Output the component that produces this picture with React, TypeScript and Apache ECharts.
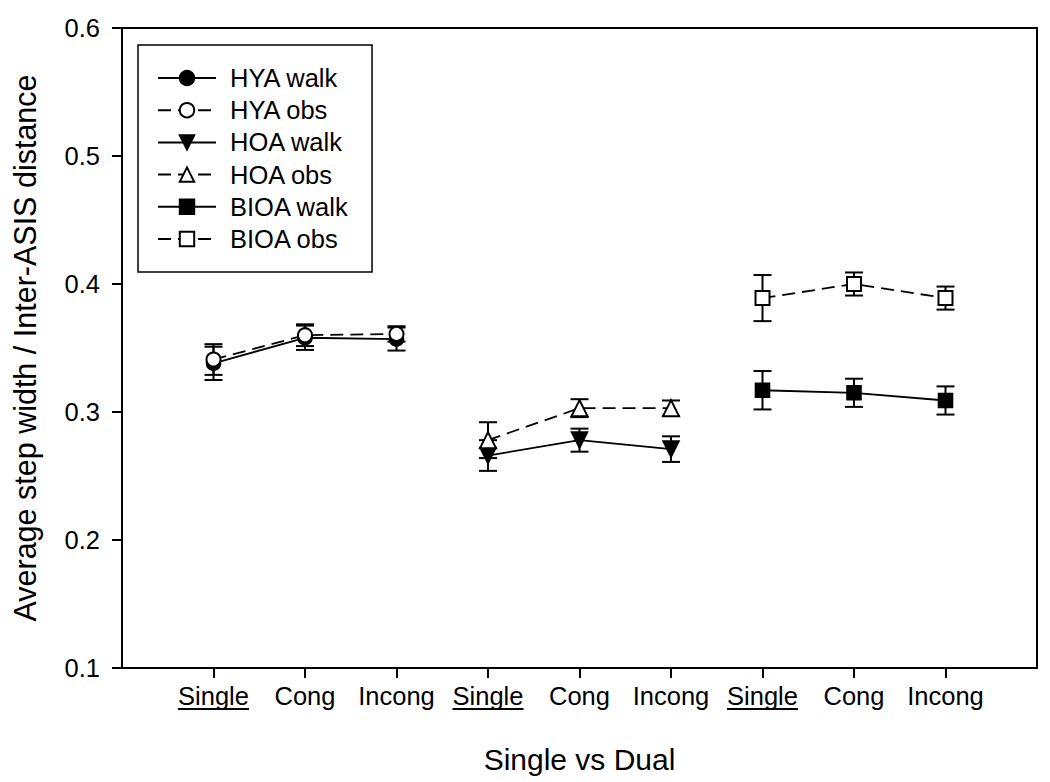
import React, { useEffect, useRef } from "react";
import * as echarts from "echarts";

const categories = ["", "Single", "Cong", "Incong", "Single", "Cong", "Incong", "Single", "Cong", "Incong", ""];
const yTicks = [0.1, 0.2, 0.3, 0.4, 0.5, 0.6];

const hyaX = [1, 2, 3];
const hoaX = [4, 5, 6];
const bioaX = [7, 8, 9];

const hyaWalk = [0.338, 0.358, 0.357];
const hyaWalkErr = [0.013, 0.0095, 0.009];
const hyaObs = [0.341, 0.360, 0.361];
const hyaObsErr = [0.012, 0.0085, 0.006];

const hoaWalk = [0.266, 0.278, 0.271];
const hoaWalkErr = [0.012, 0.009, 0.010];
const hoaObs = [0.278, 0.303, 0.303];
const hoaObsErr = [0.014, 0.007, 0.006];

const bioaWalk = [0.317, 0.315, 0.309];
const bioaWalkErr = [0.015, 0.011, 0.011];
const bioaObs = [0.389, 0.400, 0.389];
const bioaObsErr = [0.018, 0.009, 0.009];

const FONT = "'Liberation Sans', Arial, sans-serif";

type SeriesDef = {
  name: string;
  xs: number[];
  ys: number[];
  errs: number[];
  symbol: string;
  rotate: number;
  dashed: boolean;
};

const defs: SeriesDef[] = [
  { name: "HYA walk", xs: hyaX, ys: hyaWalk, errs: hyaWalkErr, symbol: "circle", rotate: 0, dashed: false },
  { name: "HYA obs", xs: hyaX, ys: hyaObs, errs: hyaObsErr, symbol: "emptyCircle", rotate: 0, dashed: true },
  { name: "HOA walk", xs: hoaX, ys: hoaWalk, errs: hoaWalkErr, symbol: "triangle", rotate: 180, dashed: false },
  { name: "HOA obs", xs: hoaX, ys: hoaObs, errs: hoaObsErr, symbol: "emptyTriangle", rotate: 0, dashed: true },
  { name: "BIOA walk", xs: bioaX, ys: bioaWalk, errs: bioaWalkErr, symbol: "rect", rotate: 0, dashed: false },
  { name: "BIOA obs", xs: bioaX, ys: bioaObs, errs: bioaObsErr, symbol: "emptyRect", rotate: 0, dashed: true },
];

const underlined = [1, 4, 7];

export default function App() {
  const ref = useRef<HTMLDivElement>(null);

  useEffect(() => {
    document.body.style.margin = "0";
    if (!ref.current) return;
    const chart = echarts.init(ref.current, undefined, { renderer: "svg" });

    const series: any[] = [];
    defs.forEach((d) => {
      series.push({
        type: "custom",
        name: d.name + " err",
        silent: true,
        z: 1,
        renderItem: (params: any, api: any) => {
          const x = api.value(0);
          const lo = api.coord([x, api.value(1)]);
          const hi = api.coord([x, api.value(2)]);
          const hw = 9;
          const st = { stroke: "#000", lineWidth: 2 };
          return {
            type: "group",
            children: [
              { type: "line", shape: { x1: lo[0], y1: lo[1], x2: hi[0], y2: hi[1] }, style: st },
              { type: "line", shape: { x1: lo[0] - hw, y1: lo[1], x2: lo[0] + hw, y2: lo[1] }, style: st },
              { type: "line", shape: { x1: hi[0] - hw, y1: hi[1], x2: hi[0] + hw, y2: hi[1] }, style: st },
            ],
          };
        },
        data: d.xs.map((x, i) => [x, d.ys[i] - d.errs[i], d.ys[i] + d.errs[i]]),
      });
    });
    defs.forEach((d) => {
      series.push({
        type: "line",
        name: d.name,
        z: 3,
        symbol: d.symbol,
        symbolSize: d.symbol.indexOf("Triangle") >= 0 || d.symbol === "triangle" ? 16 : 14,
        symbolRotate: d.rotate,
        showAllSymbol: true,
        itemStyle: { color: "#000", borderColor: "#000", borderWidth: 1.6 },
        lineStyle: { color: "#000", width: 1.8, type: d.dashed ? [13, 7] : "solid" },
        emphasis: { disabled: true },
        data: d.xs.map((x, i) => [x, d.ys[i]]),
      });
    });

    chart.setOption({
      animation: false,
      grid: {
        left: 122,
        right: 13,
        top: 28,
        bottom: 114,
        show: true,
        borderColor: "#000",
        borderWidth: 2,
        backgroundColor: "transparent",
      },
      xAxis: {
        type: "category",
        data: categories,
        boundaryGap: false,
        name: "Single vs Dual",
        nameLocation: "middle",
        nameGap: 76,
        nameTextStyle: { fontFamily: FONT, fontSize: 30, color: "#000" },
        axisLine: { lineStyle: { color: "#000", width: 2 } },
        axisTick: {
          length: 10,
          lineStyle: { color: "#000", width: 2 },
          interval: (index: number) => index > 0 && index < categories.length - 1,
        },
        axisLabel: {
          interval: 0,
          margin: 15,
          fontFamily: FONT,
          fontSize: 25.5,
          color: "#000",
        },
        splitLine: { show: false },
      },
      yAxis: {
        type: "value",
        min: yTicks[0],
        max: yTicks[yTicks.length - 1],
        interval: 0.1,
        name: "Average step width / Inter-ASIS distance",
        nameLocation: "middle",
        nameGap: 82,
        nameTextStyle: { fontFamily: FONT, fontSize: 30.5, color: "#000" },
        axisLine: { show: true, lineStyle: { color: "#000", width: 2 } },
        axisTick: { show: true, length: 10, lineStyle: { color: "#000", width: 2 } },
        axisLabel: {
          margin: 22,
          fontFamily: FONT,
          fontSize: 25.5,
          color: "#000",
          formatter: (v: number) => v.toFixed(1),
        },
        splitLine: { show: false },
      },
      legend: {
        left: 138,
        top: 45,
        orient: "vertical",
        data: defs.map((d) => d.name),
        itemWidth: 58,
        itemHeight: 18,
        itemGap: 6.2,
        padding: [20, 23, 20, 19],
        borderColor: "#000",
        borderWidth: 1.5,
        backgroundColor: "#fff",
        selectedMode: false,
        textStyle: {
          fontFamily: FONT,
          fontSize: 25.5,
          lineHeight: 24,
          color: "#000",
          padding: [0, 0, 0, 9],
        },
      },
      series,
    });

    const [, by] = chart.convertToPixel({ gridIndex: 0 }, [0, yTicks[0]]) as number[];
    const graphics = underlined.map((idx) => {
      const [px] = chart.convertToPixel({ gridIndex: 0 }, [idx, yTicks[0]]) as number[];
      return {
        type: "line",
        shape: { x1: px - 35.5, y1: by + 41, x2: px + 35.5, y2: by + 41 },
        style: { stroke: "#000", lineWidth: 2 },
        silent: true,
      };
    });
    chart.setOption({ graphic: graphics });

    return () => chart.dispose();
  }, []);

  return <div ref={ref} style={{ width: 1050, height: 782 }} />;
}
